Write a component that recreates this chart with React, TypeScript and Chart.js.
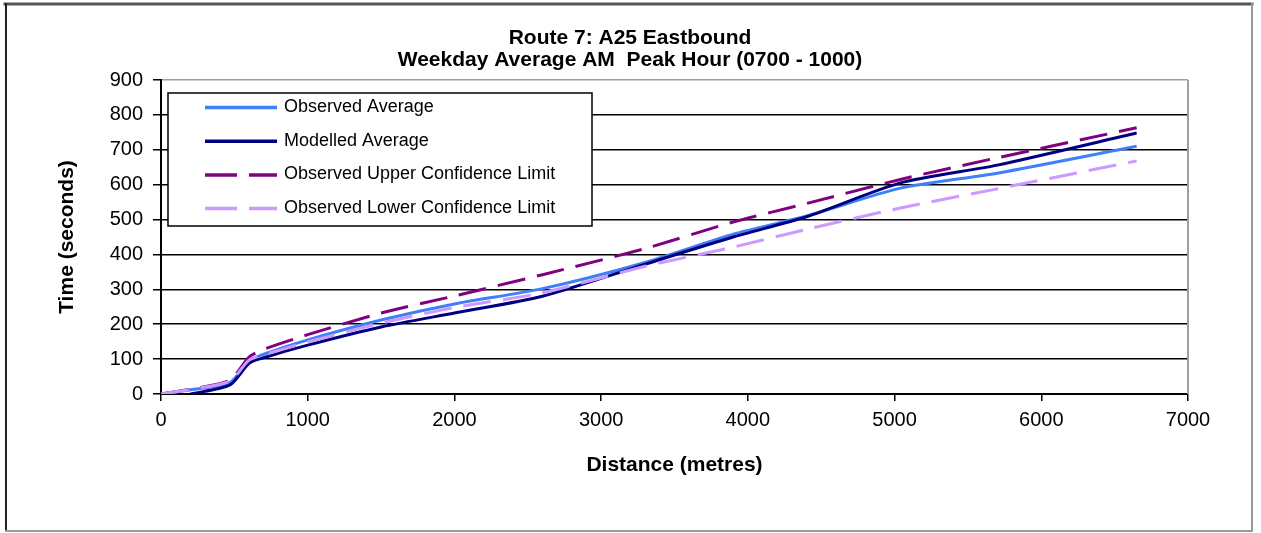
import React, { useEffect, useRef } from 'react';
import { Chart, registerables } from 'chart.js';

Chart.register(...registerables);

const FONT = '"Liberation Sans", Arial, Helvetica, sans-serif';

const TITLE_LINES = ['Route 7: A25 Eastbound', 'Weekday Average AM  Peak Hour (0700 - 1000)'];
const X_TITLE = 'Distance (metres)';
const Y_TITLE = 'Time (seconds)';

// distance along route (metres)
const distance = [0, 200, 470, 600, 700, 1000, 1500, 2000, 2600, 3300, 3900, 4400, 5040, 5700, 6650];
// journey times (seconds)
const observedAverage = [0, 12, 33, 95, 114, 155, 212, 258, 302, 377, 458, 510, 590, 633, 710];
const modelledAverage = [null, 0, 26, 88, 104, 140, 192, 232, 280, 372, 450, 508, 605, 656, 748];
const upperLimit = [0, 14, 40, 106, 128, 170, 232, 281, 342, 417, 493, 546, 615, 677, 763];
const lowerLimit = [0, 13, 37, 97, 112, 149, 203, 248, 290, 366, 421, 472, 533, 588, 668];

const seriesLabels = [
  'Observed Average',
  'Modelled Average',
  'Observed Upper Confidence Limit',
  'Observed Lower Confidence Limit',
];
const seriesValues = [observedAverage, modelledAverage, upperLimit, lowerLimit];
const seriesColors = ['#3F80F7', '#000080', '#800080', '#CC99FF'];
const seriesDashed = [false, false, true, true];

const X_MIN = 0;
const X_MAX = 7000;
const X_STEP = 1000;
const Y_MIN = 0;
const Y_MAX = 900;
const Y_STEP = 100;

const framePlugin = {
  id: 'frame',
  beforeDraw(chart: any) {
    const { ctx, width, height } = chart;
    ctx.save();
    ctx.fillStyle = '#ffffff';
    ctx.fillRect(0, 0, width, height);
    ctx.lineCap = 'square';
    ctx.strokeStyle = '#555555';
    ctx.lineWidth = 3;
    ctx.beginPath();
    ctx.moveTo(5, 4);
    ctx.lineTo(1252, 4);
    ctx.stroke();
    ctx.strokeStyle = '#222222';
    ctx.lineWidth = 2;
    ctx.beginPath();
    ctx.moveTo(6, 4);
    ctx.lineTo(6, 531);
    ctx.stroke();
    ctx.strokeStyle = '#999999';
    ctx.lineWidth = 2;
    ctx.beginPath();
    ctx.moveTo(1252, 4);
    ctx.lineTo(1252, 531);
    ctx.lineTo(6, 531);
    ctx.stroke();
    ctx.restore();
  },
};

const plotBorderPlugin = {
  id: 'plotBorder',
  beforeDatasetsDraw(chart: any) {
    const { ctx, chartArea } = chart;
    ctx.save();
    ctx.strokeStyle = '#a0a0a0';
    ctx.lineWidth = 2;
    ctx.beginPath();
    ctx.moveTo(chartArea.right, chartArea.top);
    ctx.lineTo(chartArea.right, chartArea.bottom);
    ctx.stroke();
    ctx.restore();
  },
};

const titlePlugin = {
  id: 'twoLineTitle',
  afterDraw(chart: any) {
    const { ctx } = chart;
    ctx.save();
    ctx.fillStyle = '#000000';
    ctx.font = `bold 21px ${FONT}`;
    ctx.textAlign = 'center';
    ctx.textBaseline = 'alphabetic';
    ctx.fillText(TITLE_LINES[0], 630, 44);
    ctx.fillText(TITLE_LINES[1], 630, 66);
    ctx.restore();
  },
};

const legendPlugin = {
  id: 'boxLegend',
  afterDraw(chart: any) {
    const { ctx, chartArea } = chart;
    const left = chartArea.left + 7;
    const top = chartArea.top + 13;
    const w = 424;
    const h = 133;
    ctx.save();
    ctx.fillStyle = '#ffffff';
    ctx.fillRect(left, top, w, h);
    ctx.strokeStyle = '#000000';
    ctx.lineWidth = 1.5;
    ctx.strokeRect(left, top, w, h);
    ctx.font = `18px ${FONT}`;
    ctx.textAlign = 'left';
    ctx.textBaseline = 'alphabetic';
    chart.data.datasets.forEach((ds: any, i: number) => {
      const baseline = top + 19 + i * 33.7;
      const ly = baseline - 4.5;
      ctx.strokeStyle = ds.borderColor;
      ctx.lineWidth = 3.5;
      ctx.lineCap = 'butt';
      ctx.setLineDash(ds.borderDash && ds.borderDash.length ? [32, 12] : []);
      ctx.beginPath();
      ctx.moveTo(left + 37, ly);
      ctx.lineTo(left + 109, ly);
      ctx.stroke();
      ctx.setLineDash([]);
      ctx.fillStyle = '#000000';
      ctx.fillText(ds.label, left + 116, baseline);
    });
    ctx.restore();
  },
};

export default function App() {
  const canvasRef = useRef<HTMLCanvasElement | null>(null);

  useEffect(() => {
    if (!canvasRef.current) return;
    const datasets = seriesLabels.map((label, s) => ({
      label,
      data: distance
        .map((d, i) => ({ x: d, y: seriesValues[s][i] }))
        .filter((p) => p.y !== null),
      borderColor: seriesColors[s],
      backgroundColor: seriesColors[s],
      borderWidth: 3,
      borderDash: seriesDashed[s] ? [28, 12] : [],
      pointRadius: 0,
      tension: 0.25,
      fill: false,
      order: seriesLabels.length - s,
    }));

    const chart = new Chart(canvasRef.current, {
      type: 'line',
      data: { datasets },
      options: {
        animation: false,
        responsive: false,
        devicePixelRatio: 1,
        layout: { padding: { top: 80, right: 73, bottom: 0, left: 0 } },
        plugins: {
          legend: { display: false },
          title: { display: false },
          tooltip: { enabled: false },
        },
        scales: {
          x: {
            type: 'linear',
            min: X_MIN,
            max: X_MAX,
            ticks: {
              stepSize: X_STEP,
              color: '#000000',
              padding: 7,
              maxRotation: 0,
              font: { family: FONT, size: 20 },
              callback: (v: any) => String(v),
            },
            grid: {
              drawOnChartArea: false,
              drawTicks: true,
              tickLength: 7,
              color: '#000000',
              lineWidth: 1.5,
            },
            border: { display: true, color: '#000000', width: 2 },
            title: {
              display: true,
              text: X_TITLE,
              color: '#000000',
              font: { family: FONT, size: 21, weight: 'bold' },
              padding: { top: 0, bottom: 55 },
            },
            afterFit: (scale: any) => {
              scale.height = 139;
            },
          },
          y: {
            type: 'linear',
            min: Y_MIN,
            max: Y_MAX,
            ticks: {
              stepSize: Y_STEP,
              color: '#000000',
              padding: 10,
              font: { family: FONT, size: 20 },
              callback: (v: any) => String(v),
            },
            grid: {
              drawOnChartArea: true,
              drawTicks: true,
              tickLength: 8,
              color: (c: any) => (c.tick && c.tick.value === Y_MAX ? '#a0a0a0' : '#000000'),
              tickColor: '#000000',
              lineWidth: 1.5,
            },
            border: { display: true, color: '#000000', width: 2 },
            title: {
              display: true,
              text: Y_TITLE,
              color: '#000000',
              font: { family: FONT, size: 21, weight: 'bold' },
              padding: { top: 55, bottom: 0 },
            },
            afterFit: (scale: any) => {
              scale.width = 161;
            },
          },
        },
      } as any,
      plugins: [framePlugin, plotBorderPlugin, legendPlugin, titlePlugin],
    });

    return () => {
      chart.destroy();
    };
  }, []);

  return (
    <div style={{ position: 'absolute', left: 0, top: 0, width: 1261, height: 533, background: '#fff' }}>
      <canvas ref={canvasRef} width={1261} height={533} style={{ display: 'block' }} />
    </div>
  );
}
